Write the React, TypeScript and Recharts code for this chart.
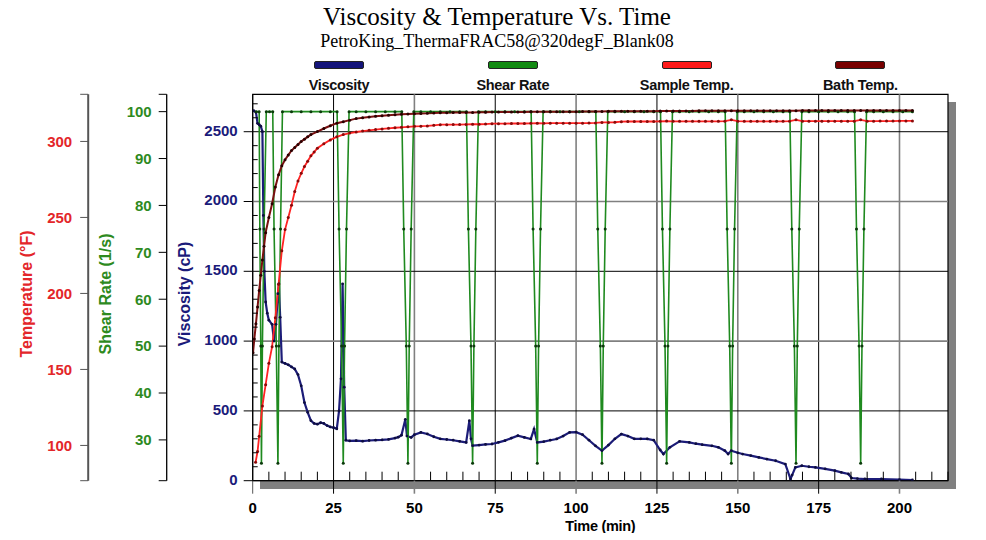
import React from 'react'
import { LineChart, Line, XAxis, YAxis, ReferenceLine, ReferenceArea } from 'recharts'

// readings are [minutes, value]
const viscosityReadings = [
  [0.3, 2650], [1, 2640], [1.5, 2560], [2, 2550], [2.5, 2540], [3, 2500], [3.3, 1900], [3.6, 1500],
  [4, 1280], [4.5, 1200], [5, 1150], [6, 1120], [6.6, 1000], [7.2, 1120], [7.8, 1340], [8.1, 1410],
  [8.5, 1170], [9, 850], [10, 840], [11, 830], [12, 815], [13, 800], [14, 760], [15, 680], [16, 560],
  [17, 490], [18, 430], [19, 410], [20, 405], [21, 415], [22, 410], [23, 395], [24, 385], [25, 380],
  [26, 372], [26.7, 500], [27.3, 730], [27.8, 1410], [28.3, 670], [28.8, 290], [30, 285], [32, 287],
  [34, 283], [36, 288], [38, 290], [40, 292], [42, 296], [44, 305], [45, 312], [46, 326], [47.2, 440],
  [47.7, 320], [49, 310], [50, 330], [52, 346], [54, 335], [56, 315], [58, 300], [60, 295], [62, 290],
  [64, 282], [66, 274], [67, 430], [67.5, 300], [68, 251], [70, 255], [72, 260], [74, 263], [76, 275],
  [78, 287], [80, 305], [82, 322], [84, 310], [86, 299], [87, 370], [88, 274], [90, 280], [92, 290],
  [94, 299], [96, 320], [98, 346], [100, 348], [102, 330], [104, 290], [106, 250], [108, 215],
  [110, 255], [112, 300], [114, 334], [116, 320], [118, 300], [120, 300], [122, 299], [124, 290],
  [126, 220], [127, 191], [129, 239], [132, 282], [135, 274], [137, 265], [139, 258], [142, 250],
  [144, 239], [146, 215], [147, 191], [148, 215], [150, 200], [151.5, 191], [154, 180], [156.5, 167],
  [159, 155], [161.7, 143], [164.7, 119], [166.3, 12], [166.8, 40], [167.8, 95], [169.8, 107],
  [172, 100], [174, 95], [177, 85], [180, 72], [182, 60], [184.2, 48], [185.2, 19], [187, 15],
  [189.3, 12], [194.4, 12], [200, 8], [204, 5],
]

const shearReadings = [
  [1.1, 100], [2, 100], [2.2, 75], [2.5, 50], [2.7, 25], [3, 50], [3.5, 75], [4.2, 100], [5.2, 100],
  [6.2, 100], [6.6, 75], [7.3, 50], [7.8, 25], [8.1, 50], [8.6, 75], [9.2, 100],
  [12, 100], [15, 100], [18, 100], [21, 100], [24, 100],
  [26.1, 100], [26.7, 75], [27.5, 50], [28, 25], [28.4, 50], [29, 75], [29.8, 100],
  [32, 100], [35, 100], [38, 100], [41, 100], [44, 100],
  [46.1, 100], [46.7, 75], [47.5, 50], [48, 25], [48.4, 50], [49, 75], [49.8, 100],
  [52, 100], [55, 100], [58, 100], [61, 100], [64, 100],
  [66.1, 100], [66.7, 75], [67.5, 50], [68, 25], [68.4, 50], [69, 75], [69.8, 100],
  [72, 100], [75, 100], [78, 100], [81, 100], [84, 100],
  [86.1, 100], [86.7, 75], [87.5, 50], [88, 25], [88.4, 50], [89, 75], [89.8, 100],
  [92, 100], [95, 100], [98, 100], [101, 100], [104, 100],
  [106.1, 100], [106.7, 75], [107.5, 50], [108, 25], [108.4, 50], [109, 75], [109.8, 100],
  [112, 100], [115, 100], [118, 100], [121, 100], [124, 100],
  [126.1, 100], [126.7, 75], [127.5, 50], [128, 25], [128.4, 50], [129, 75], [129.8, 100],
  [132, 100], [135, 100], [138, 100], [141, 100], [144, 100],
  [146.1, 100], [146.7, 75], [147.5, 50], [148, 25], [148.4, 50], [149, 75], [149.8, 100],
  [152, 100], [155, 100], [158, 100], [161, 100], [164, 100],
  [166.1, 100], [166.7, 75], [167.5, 50], [168, 25], [168.4, 50], [169, 75], [169.8, 100],
  [172, 100], [175, 100], [178, 100], [181, 100], [184, 100],
  [186.1, 100], [186.7, 75], [187.5, 50], [188, 25], [188.4, 50], [189, 75], [189.8, 100],
  [192, 100], [195, 100], [198, 100], [201, 100], [204, 100],
]

const sampleTempReadings = [
  [0.9, 89], [1.5, 96], [2, 106], [3, 126], [4, 140], [5, 154], [6, 165], [7, 184], [8, 206],
  [9, 228], [10, 242], [11, 250], [12, 258], [13, 267], [14, 274], [15, 279], [16, 283.5], [17, 287],
  [18, 290.5], [19, 293], [20, 295.5], [22, 298.5], [24, 301], [26, 303], [28, 304.5], [30, 305.5],
  [32, 306.2], [34, 306.8], [36, 307.3], [38, 307.8], [40, 308.2], [42, 308.6], [44, 309], [46, 309.3],
  [48, 309.6], [50, 309.9], [52, 310], [54, 310.2], [56, 310.6], [58, 311], [60, 311], [62, 311.1],
  [64, 311.1], [66, 311.2], [68, 311.3], [70, 311.3], [72, 311.4], [74, 311.7], [76, 311.7],
  [78, 311.7], [80, 311.8], [82, 311.8], [84, 311.8], [86, 311.9], [88, 312], [90, 311.9], [92, 312],
  [94, 312], [96, 312], [98, 312], [100, 312], [102, 312], [104, 312.1], [106, 312.2], [108, 312.5],
  [110, 312.5], [112, 312.6], [114, 313], [116, 313.1], [118, 313.1], [120, 313.1], [122, 313.1],
  [124, 313.1], [126, 313.2], [128, 313.4], [130, 313.2], [132, 313.2], [134, 313.2], [136, 313.2],
  [138, 313.2], [140, 313.2], [142, 313.2], [144, 313.2], [146, 313.3], [148, 314.2], [150, 313.3],
  [152, 313.2], [154, 313.2], [156, 313.2], [158, 313.2], [160, 313.2], [162, 313.2], [164, 313.2],
  [166, 313.3], [168, 314.2], [170, 313.3], [172, 313.3], [174, 313.3], [176, 313.3], [178, 313.3],
  [180, 313.3], [182, 313.3], [184, 313.3], [186, 313.3], [188, 314.2], [190, 313.3], [192, 313.3],
  [194, 313.4], [196, 313.4], [198, 313.4], [200, 313.5], [202, 313.5], [204, 313.5],
]

const bathTempReadings = [
  [0.1, 161], [0.5, 170], [1, 180], [1.5, 191], [2, 202], [2.5, 212], [3, 222], [3.5, 231], [4, 240],
  [5, 250], [6, 259], [7, 270], [8, 278], [9, 284], [10, 288], [11, 291], [12, 294], [13, 296],
  [14, 298], [15, 300], [16, 301.5], [17, 303], [18, 304.5], [20, 306.5], [22, 308.5], [24, 310.3],
  [26, 312], [28, 313], [30, 314], [32, 315], [34, 315.6], [36, 316.1], [38, 316.5], [40, 316.9],
  [42, 317.2], [44, 317.5], [46, 317.8], [48, 318], [50, 318.2], [52, 318.4], [54, 318.5], [56, 318.7],
  [58, 318.8], [60, 318.9], [62, 319], [64, 319], [66, 319.1], [68, 319.1], [70, 319.2], [72, 319.2],
  [74, 319.3], [76, 319.3], [78, 319.3], [80, 319.4], [82, 319.4], [84, 319.4], [86, 319.5],
  [88, 319.5], [90, 319.5], [92, 319.5], [94, 319.6], [96, 319.6], [98, 319.6], [100, 319.6],
  [102, 319.7], [104, 319.7], [106, 319.7], [108, 319.7], [110, 319.8], [112, 319.8], [114, 319.8],
  [116, 319.8], [118, 319.9], [120, 319.9], [122, 319.9], [124, 319.9], [126, 320], [128, 320],
  [130, 320], [132, 320], [134, 320], [136, 320], [138, 320.1], [140, 320.1], [142, 320.1],
  [144, 320.1], [146, 320.1], [148, 320.1], [150, 320.1], [152, 320.2], [154, 320.2], [156, 320.2],
  [158, 320.2], [160, 320.2], [162, 320.2], [164, 320.2], [166, 320.2], [168, 320.2], [170, 320.3],
  [172, 320.3], [174, 320.3], [176, 320.3], [178, 320.3], [180, 320.3], [182, 320.3], [184, 320.3],
  [186, 320.3], [188, 320.3], [190, 320.3], [192, 320.3], [194, 320.3], [196, 320.3], [198, 320.3],
  [200, 320.3], [202, 320.3], [204, 320.3],
]

const timeTicks = [
  0, 5, 10, 15, 20, 25, 30, 35, 40, 45, 50, 55, 60, 65, 70, 75, 80, 85, 90, 95, 100, 105,
  110, 115, 120, 125, 130, 135, 140, 145, 150, 155, 160, 165, 170, 175, 180, 185, 190, 195,
  200, 205, 210, 215,
]
const viscosityTicks = [
  0, 100, 200, 300, 400, 500, 600, 700, 800, 900, 1000, 1100, 1200, 1300, 1400, 1500, 1600,
  1700, 1800, 1900, 2000, 2100, 2200, 2300, 2400, 2500, 2600, 2700,
]
const shearTicks = [30, 40, 50, 60, 70, 80, 90, 100]
const tempTicks = [100, 150, 200, 250, 300]
const timeGridLines = [25, 50, 75, 100, 125, 150, 175, 200]
const viscosityGridLines = [500, 1000, 1500, 2000, 2500]
const seriesNames = ['Viscosity', 'Shear Rate', 'Sample Temp.', 'Bath Temp.']

const TIME_DOMAIN = [0, 215]
const VISC_DOMAIN = [0, 2768]
const SHEAR_DOMAIN = [21.3, 103.7]
const TEMP_DOMAIN = [76.8, 331]

// left axes are stacked by id order, innermost first
const VISC_ID = 'a-visc'
const SHEAR_ID = 'b-shear'
const TEMP_ID = 'c-temp'

const SANS = '"Liberation Sans", Arial, sans-serif'
const SERIF = '"Liberation Serif", "Times New Roman", serif'
const C = {
  visc: '#1c1c78',
  shear: '#1f8a1f',
  sample: '#ff2323',
  bath: '#7a1010',
  viscText: '#1b1b7a',
  shearText: '#2e8a1e',
  tempText: '#e3262a',
  grey: '#808080',
}
const legendFill = ['#14147a', '#128a12', '#ff1a1a', '#780000']

const W = 970
const H = 525
const X_AXIS_H = 50
const MARGIN = { top: 86.3, right: 30, bottom: 2.3, left: 0 }
const PLOT_LEFT = 244.7
const PLOT_RIGHT = W - MARGIN.right
const PLOT_TOP = MARGIN.top
const PLOT_BOTTOM = H - MARGIN.bottom - X_AXIS_H
const SHADOW = 7.5

const toPoints = (rows: number[][]) => rows.map(([t, v]) => ({ t, v }))

function TimeTick(props: any) {
  const { x, y, payload } = props
  const v = payload.value
  if (v % 25 === 0) {
    const col = v === 0 ? '#555' : (v / 25) % 2 === 1 ? '#000' : C.grey
    return (
      <g>
        <line x1={x} x2={x} y1={y} y2={y + 13} stroke={col} strokeWidth={col === C.grey ? 1.6 : 1} />
        <text x={x} y={y + 28} textAnchor="middle" dominantBaseline="middle"
          fontFamily={SANS} fontSize={15} fontWeight={700} fill="#000">{v}</text>
      </g>
    )
  }
  return <line x1={x} x2={x} y1={y} y2={y - 9} stroke="#000" />
}

function ViscTick(props: any) {
  const { x, y, payload } = props
  const v = payload.value
  if (v % 500 === 0) {
    return (
      <g>
        <line x1={x - 9} x2={x} y1={y} y2={y} stroke="#000" />
        <text x={x - 15} y={y} textAnchor="end" dominantBaseline="middle"
          fontFamily={SANS} fontSize={15} fontWeight={700} fill={C.viscText}>{v}</text>
      </g>
    )
  }
  return <line x1={x} x2={x + 5} y1={y} y2={y} stroke="#000" />
}

const axisTitle = (text: string, color: string, dx: number) => (p: any) => {
  const vb = p.viewBox || {}
  const cx = vb.x + dx
  const cy = vb.y + vb.height / 2 + 6.5
  return (
    <text x={cx} y={cy} transform={`rotate(-90 ${cx} ${cy})`} textAnchor="middle"
      dominantBaseline="middle" fontFamily={SANS} fontSize={16} fontWeight={700} fill={color}>
      {text}
    </text>
  )
}

export default function App() {
  const dotStyle = (fill: string, r: number) => ({ r, fill, stroke: 'none' })
  return (
    <div style={{ position: 'relative', width: W, height: H }}>
      <div style={{ position: 'absolute', left: 0, width: 978, top: 0, textAlign: 'center',
        fontFamily: SERIF, fontSize: 25, lineHeight: '18px', color: '#000' }}>
        Viscosity &amp; Temperature Vs. Time
      </div>
      <div style={{ position: 'absolute', left: 0, width: 978, top: 24.5, textAlign: 'center',
        fontFamily: SERIF, fontSize: 18, lineHeight: '17px', color: '#000' }}>
        PetroKing_ThermaFRAC58@320degF_Blank08
      </div>
      {seriesNames.map((name, i) => {
        const cx = 331 + i * 173.8
        return (
          <React.Fragment key={name}>
            <div style={{ position: 'absolute', left: cx - 25, top: 53, width: 50, height: 8,
              background: legendFill[i], border: '1px solid #222', borderRadius: 2, boxSizing: 'border-box' }} />
            <div style={{ position: 'absolute', left: cx - 70, width: 140, top: 68, textAlign: 'center',
              fontFamily: SANS, fontWeight: 700, fontSize: 14.5, lineHeight: '18px', color: '#111',
              letterSpacing: -0.3 }}>
              {name}
            </div>
          </React.Fragment>
        )
      })}
      <div style={{ position: 'absolute', left: PLOT_RIGHT, top: PLOT_TOP + SHADOW,
        width: SHADOW + 0.5, height: PLOT_BOTTOM - PLOT_TOP + 0.5, background: C.grey }} />
      <div style={{ position: 'absolute', left: PLOT_LEFT + SHADOW, top: PLOT_BOTTOM,
        width: PLOT_RIGHT - PLOT_LEFT + 0.5, height: SHADOW + 0.5, background: C.grey }} />

      <LineChart width={W} height={H} margin={MARGIN}>
        <XAxis xAxisId="t" type="number" dataKey="t" domain={TIME_DOMAIN} allowDataOverflow
          ticks={timeTicks} interval={0} tick={<TimeTick />} tickLine={false} tickSize={0} tickMargin={0}
          axisLine={{ stroke: '#000' }} height={X_AXIS_H}
          label={{ content: (p: any) => {
            const vb = p.viewBox || {}
            return (
              <text x={vb.x + vb.width / 2} y={vb.y + 46.5} textAnchor="middle" dominantBaseline="middle"
                fontFamily={SANS} fontSize={14.5} fontWeight={700} fill="#000" letterSpacing={-0.3}>
                Time (min)
              </text>
            )
          } }} />
        <YAxis yAxisId={VISC_ID} type="number" domain={VISC_DOMAIN} allowDataOverflow width={86}
          ticks={viscosityTicks} interval={0} tick={<ViscTick />} tickLine={false} tickSize={0} tickMargin={0}
          axisLine={{ stroke: '#000' }}
          label={{ content: axisTitle('Viscosity (cP)', C.viscText, 19) }} />
        <YAxis yAxisId={SHEAR_ID} type="number" domain={SHEAR_DOMAIN} allowDataOverflow width={78.5}
          ticks={[SHEAR_DOMAIN[0], ...shearTicks, SHEAR_DOMAIN[1]]} interval={0}
          tickFormatter={(v: number) => (shearTicks.includes(v) ? String(v) : '')}
          tick={{ fill: C.shearText, fontSize: 15, fontWeight: 700, fontFamily: SANS }}
          tickSize={8} tickMargin={7} tickLine={{ stroke: '#000' }} axisLine={{ stroke: '#000', strokeWidth: 1.3 }}
          label={{ content: axisTitle('Shear Rate (1/s)', C.shearText, 18.5) }} />
        <YAxis yAxisId={TEMP_ID} type="number" domain={TEMP_DOMAIN} allowDataOverflow width={80.2}
          ticks={[TEMP_DOMAIN[0], ...tempTicks, TEMP_DOMAIN[1]]} interval={0}
          tickFormatter={(v: number) => (tempTicks.includes(v) ? String(v) : '')}
          tick={{ fill: C.tempText, fontSize: 15, fontWeight: 700, fontFamily: SANS }}
          tickSize={8} tickMargin={8} tickLine={{ stroke: '#555' }} axisLine={{ stroke: '#555', strokeWidth: 2 }}
          label={{ content: axisTitle('Temperature (°F)', C.tempText, 19.5) }} />

        {timeGridLines.map((t, i) => (
          <ReferenceLine key={'vx' + t} xAxisId="t" yAxisId={VISC_ID} x={t}
            stroke={i % 2 === 0 ? '#000' : C.grey} strokeWidth={i % 2 === 0 ? 1 : 1.6} />
        ))}
        {viscosityGridLines.map((v, i) => (
          <ReferenceLine key={'hy' + v} xAxisId="t" yAxisId={VISC_ID} y={v}
            stroke={i % 2 === 0 ? '#000' : C.grey} strokeWidth={i % 2 === 0 ? 1 : 1.6} />
        ))}
        <ReferenceArea xAxisId="t" yAxisId={VISC_ID} x1={TIME_DOMAIN[0]} x2={TIME_DOMAIN[1]}
          y1={VISC_DOMAIN[0]} y2={VISC_DOMAIN[1]} fill="none" fillOpacity={0} stroke="#000" strokeWidth={1.2} />

        <Line xAxisId="t" yAxisId={VISC_ID} data={toPoints(viscosityReadings)} dataKey="v" name="Viscosity"
          type="linear" stroke={C.visc} strokeWidth={2.2} dot={dotStyle('#0d0d40', 1.4)} activeDot={false}
          isAnimationActive={false} />
        <Line xAxisId="t" yAxisId={SHEAR_ID} data={toPoints(shearReadings)} dataKey="v" name="Shear Rate"
          type="linear" stroke={C.shear} strokeWidth={1.6} dot={dotStyle('#0b3a0b', 1.5)} activeDot={false}
          isAnimationActive={false} />
        <Line xAxisId="t" yAxisId={TEMP_ID} data={toPoints(sampleTempReadings)} dataKey="v" name="Sample Temp."
          type="linear" stroke={C.sample} strokeWidth={1.8} dot={dotStyle('#8a0a0a', 1.5)} activeDot={false}
          isAnimationActive={false} />
        <Line xAxisId="t" yAxisId={TEMP_ID} data={toPoints(bathTempReadings)} dataKey="v" name="Bath Temp."
          type="linear" stroke={C.bath} strokeWidth={2} dot={dotStyle('#2a0000', 1.5)} activeDot={false}
          isAnimationActive={false} />
      </LineChart>
    </div>
  )
}
